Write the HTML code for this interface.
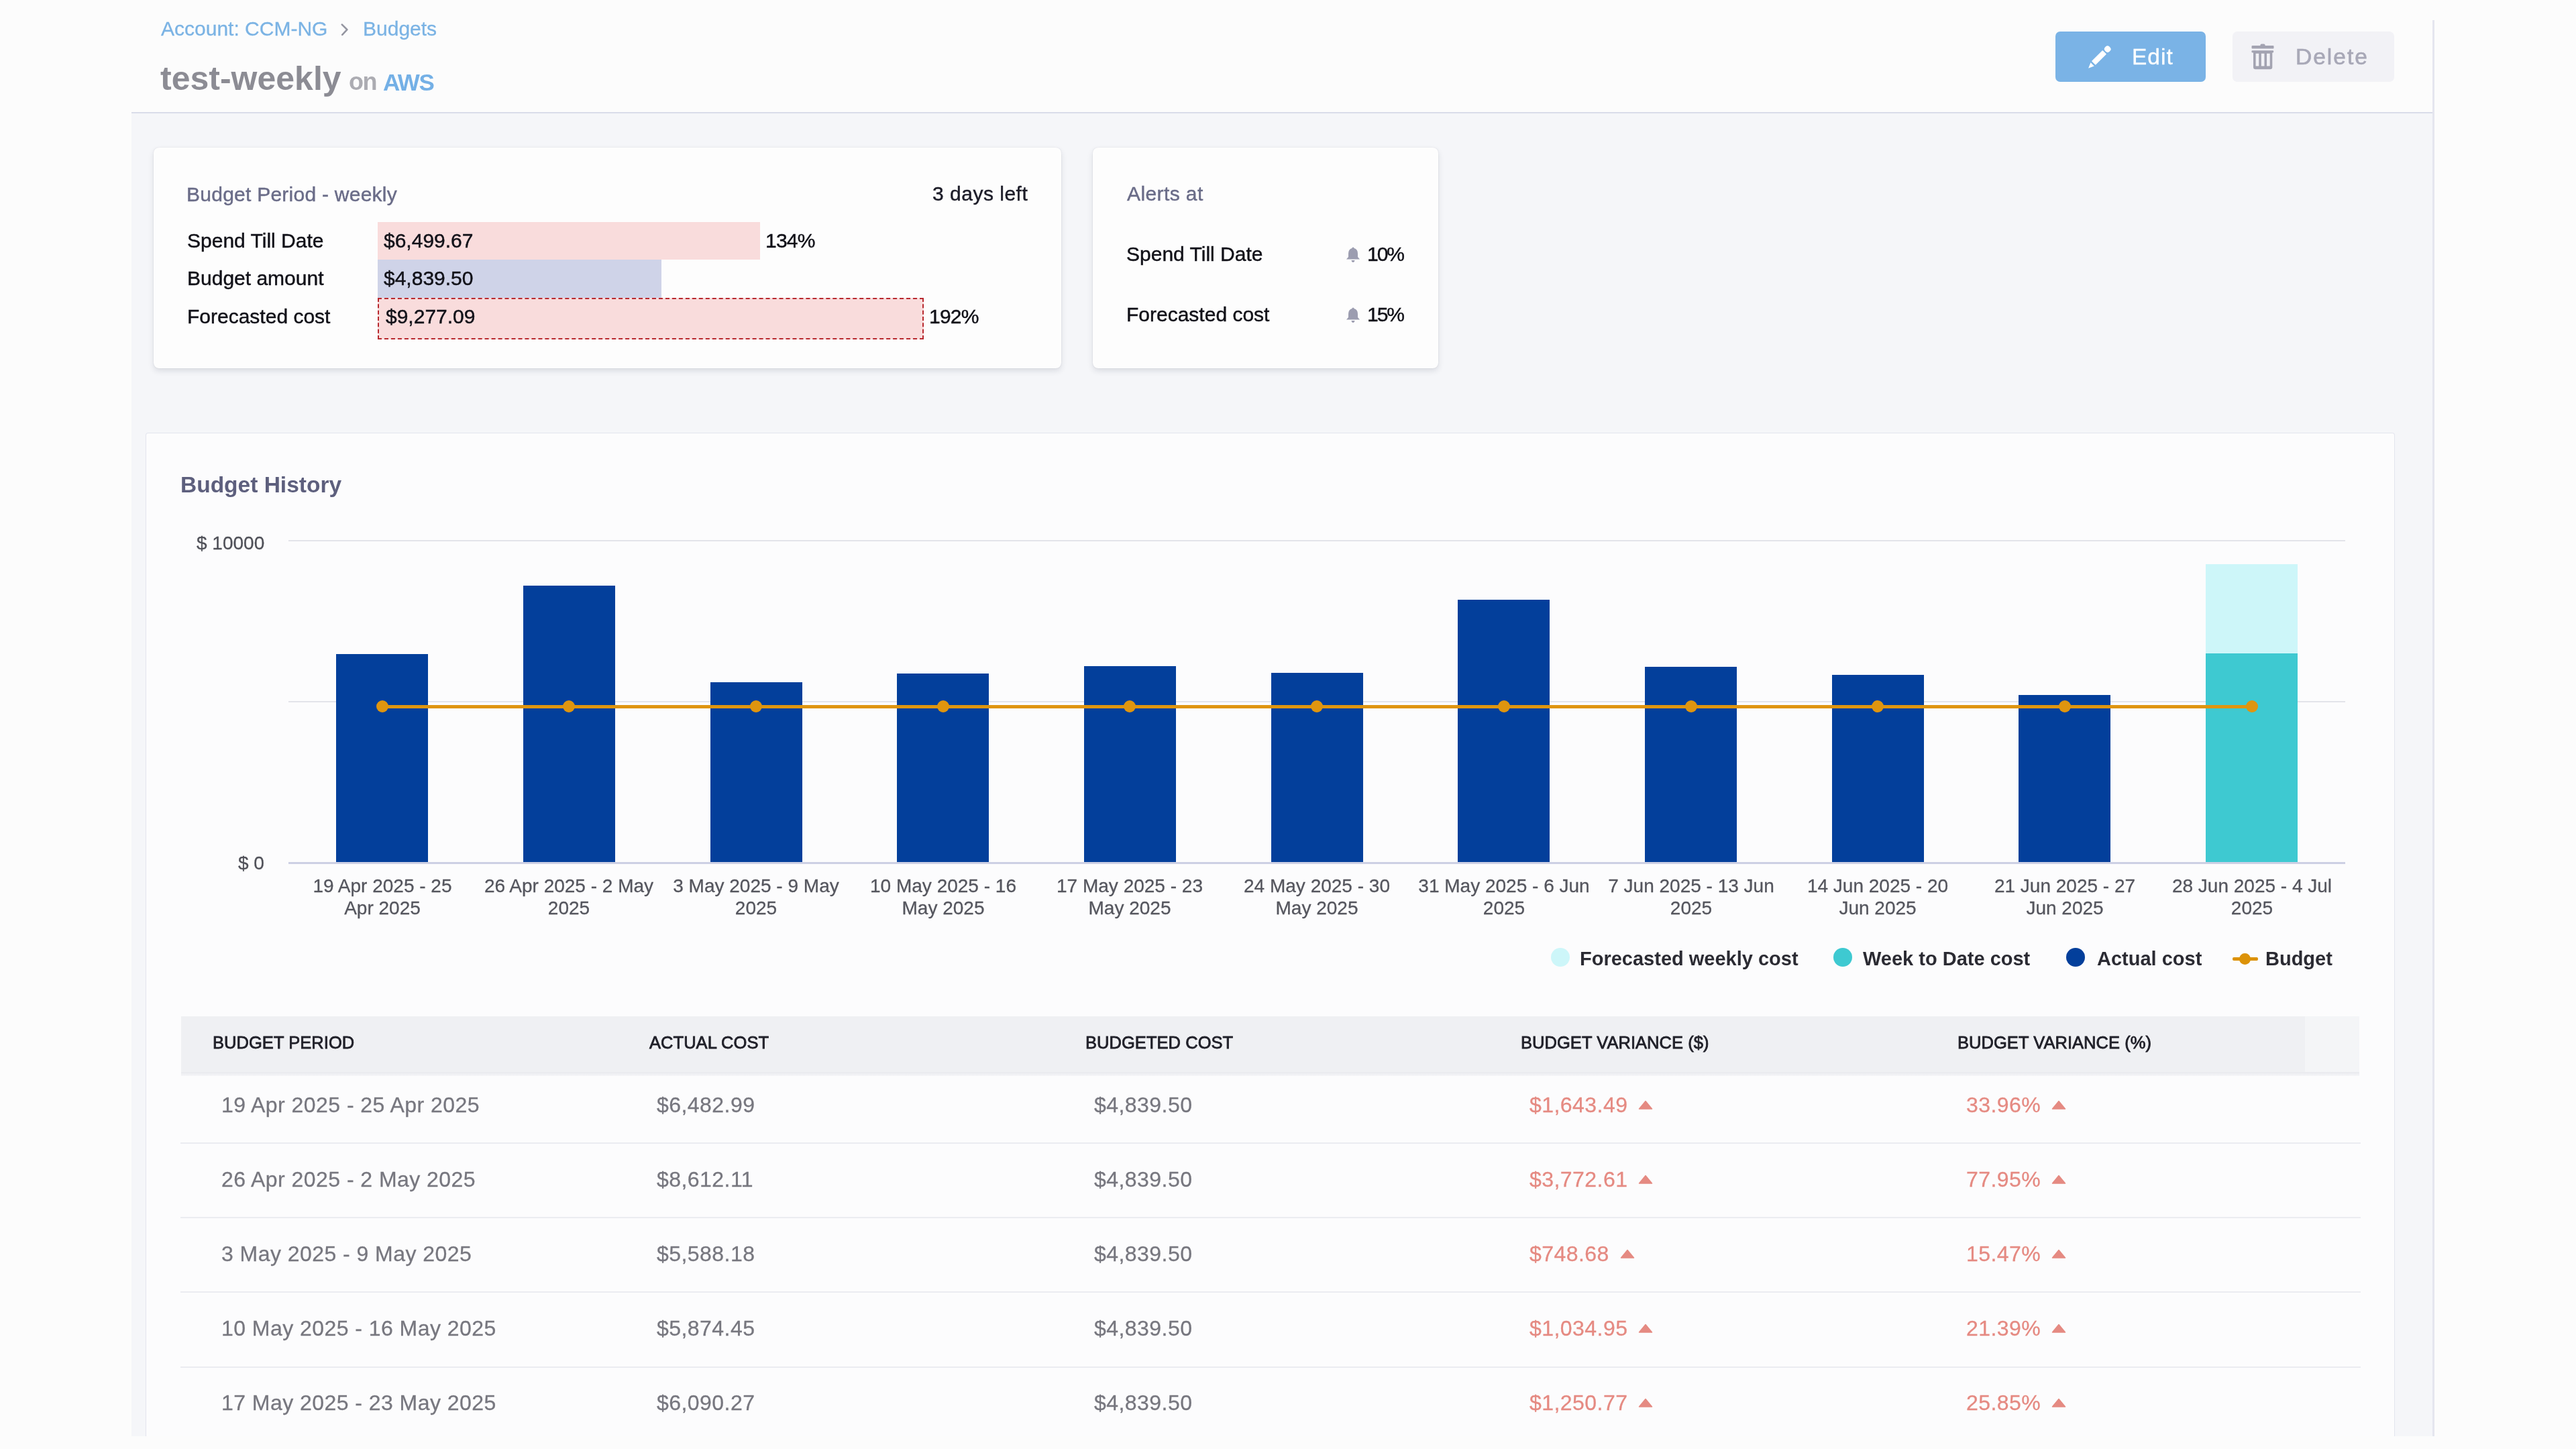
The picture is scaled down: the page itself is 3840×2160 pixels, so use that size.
<!DOCTYPE html>
<html><head><meta charset="utf-8"><title>test-weekly - Budgets</title>
<style>
html,body{margin:0;padding:0;}
body{width:3840px;height:2160px;overflow:hidden;position:relative;background:#fcfcfc;font-family:"Liberation Sans", sans-serif;}
.t{position:absolute;white-space:nowrap;will-change:transform;}
</style></head><body>
<div style="position:absolute;left:196.0px;top:169.0px;width:3432.0px;height:1972.0px;background:#f5f6f9;"></div>
<div style="position:absolute;left:196.0px;top:167.0px;width:3432.0px;height:2.0px;background:#d9dce9;"></div>
<div style="position:absolute;left:3626.0px;top:30.0px;width:3.0px;height:2111.0px;background:#e5e6ef;"></div>
<div class="t" style="left:240.0px;top:28.1px;font-size:30px;line-height:30px;font-weight:400;color:#7bb3e4;-webkit-text-stroke:0.3px currentColor;">Account: CCM-NG</div>
<svg style="position:absolute;left:506px;top:35px" width="16" height="18" viewBox="0 0 16 18"><path d="M3.8 1.6 L11.4 9.2 L4.2 16.8" fill="none" stroke="#9495a0" stroke-width="2.6" stroke-linecap="round" stroke-linejoin="round"/></svg>
<div class="t" style="left:541.0px;top:28.1px;font-size:30px;line-height:30px;font-weight:400;color:#7bb3e4;-webkit-text-stroke:0.3px currentColor;">Budgets</div>
<div class="t" style="left:239.0px;top:92.1px;font-size:50px;line-height:50px;font-weight:700;color:#8c8c94;">test-weekly</div>
<div class="t" style="left:520.0px;top:103.9px;font-size:36px;line-height:36px;font-weight:700;color:#acacb2;letter-spacing:-1.5px;">on</div>
<div class="t" style="left:570.5px;top:104.8px;font-size:35px;line-height:35px;font-weight:700;color:#74b0e6;letter-spacing:-1.5px;">AWS</div>
<div style="position:absolute;left:3064.0px;top:47.0px;width:224.0px;height:75.0px;background:#7ab3e6;border-radius:7px;"></div>
<svg style="position:absolute;left:3110px;top:64px" width="40" height="40" viewBox="0 0 40 40"><g transform="translate(3.1,37.8) rotate(-45)" fill="#fff"><path d="M0 0 L8.5 -3.7 L8.5 3.7 Z"/><rect x="11" y="-4.1" width="23" height="8.2" rx="0.8"/><rect x="36" y="-4.6" width="9" height="9.2" rx="4"/></g></svg>
<div class="t" style="left:3178.0px;top:67.9px;font-size:33.5px;line-height:33.5px;font-weight:400;color:#ffffff;-webkit-text-stroke:0.3px currentColor;letter-spacing:1px;">Edit</div>
<div style="position:absolute;left:3328.0px;top:47.0px;width:241.0px;height:75.0px;background:#f2f2f6;border-radius:7px;"></div>
<svg style="position:absolute;left:3355px;top:64px" width="36" height="42" viewBox="0 0 36 42"><rect x="14.4" y="1.6" width="7.2" height="4.2" rx="2" fill="#a3a3b1"/><rect x="1.5" y="4" width="33" height="4.4" rx="1" fill="#a3a3b1"/><rect x="1.5" y="11.2" width="32.6" height="3.2" rx="1" fill="#a3a3b1"/><path d="M4 13 H32.3 V36 Q32.3 39.2 29.1 39.2 H7.2 Q4 39.2 4 36 Z" fill="#a3a3b1"/><rect x="7.6" y="15.8" width="4.63" height="18.7" fill="#f2f2f6"/><rect x="15.83" y="15.8" width="4.63" height="18.7" fill="#f2f2f6"/><rect x="24.06" y="15.8" width="4.63" height="18.7" fill="#f2f2f6"/></svg>
<div class="t" style="left:3422.0px;top:67.9px;font-size:33.5px;line-height:33.5px;font-weight:400;color:#a8a8b7;-webkit-text-stroke:0.7px currentColor;letter-spacing:2px;">Delete</div>
<div style="position:absolute;left:229.0px;top:220.0px;width:1353.0px;height:329.0px;background:#fdfdfd;border-radius:8px;box-shadow:0 4px 9px rgba(40,45,70,0.13), 0 0 1.5px rgba(40,45,70,0.14);"></div>
<div style="position:absolute;left:1629.0px;top:220.0px;width:515.0px;height:329.0px;background:#fdfdfd;border-radius:8px;box-shadow:0 4px 9px rgba(40,45,70,0.13), 0 0 1.5px rgba(40,45,70,0.14);"></div>
<div class="t" style="left:277.7px;top:274.6px;font-size:30px;line-height:30px;font-weight:400;color:#6a6c88;-webkit-text-stroke:0.45px currentColor;letter-spacing:0.25px;">Budget Period - weekly</div>
<div class="t" style="left:1390.0px;top:274.0px;font-size:30px;line-height:30px;font-weight:400;color:#1c1c28;-webkit-text-stroke:0.45px currentColor;letter-spacing:0.5px;">3 days left</div>
<div class="t" style="left:279.0px;top:343.9px;font-size:30px;line-height:30px;font-weight:400;color:#111118;-webkit-text-stroke:0.45px currentColor;">Spend Till Date</div>
<div class="t" style="left:279.0px;top:399.6px;font-size:30px;line-height:30px;font-weight:400;color:#111118;-webkit-text-stroke:0.45px currentColor;">Budget amount</div>
<div class="t" style="left:279.0px;top:456.6px;font-size:30px;line-height:30px;font-weight:400;color:#111118;-webkit-text-stroke:0.45px currentColor;">Forecasted cost</div>
<div style="position:absolute;left:563.0px;top:330.5px;width:570.0px;height:56.5px;background:#f9dcdc;"></div>
<div style="position:absolute;left:563.0px;top:387.0px;width:423.0px;height:56.5px;background:#cfd3e8;"></div>
<div style="position:absolute;left:563.0px;top:443.5px;width:814.0px;height:62.0px;background:#f9dcdc;box-sizing:border-box;border:2.6px dashed #b8292f;"></div>
<div class="t" style="left:572.0px;top:343.6px;font-size:30px;line-height:30px;font-weight:400;color:#111118;-webkit-text-stroke:0.45px currentColor;">$6,499.67</div>
<div class="t" style="left:572.0px;top:399.6px;font-size:30px;line-height:30px;font-weight:400;color:#111118;-webkit-text-stroke:0.45px currentColor;">$4,839.50</div>
<div class="t" style="left:575.0px;top:457.2px;font-size:30px;line-height:30px;font-weight:400;color:#111118;-webkit-text-stroke:0.45px currentColor;">$9,277.09</div>
<div class="t" style="left:1141.0px;top:343.6px;font-size:30px;line-height:30px;font-weight:400;color:#111118;-webkit-text-stroke:0.45px currentColor;letter-spacing:-0.8px;">134%</div>
<div class="t" style="left:1385.0px;top:457.2px;font-size:30px;line-height:30px;font-weight:400;color:#111118;-webkit-text-stroke:0.45px currentColor;letter-spacing:-0.8px;">192%</div>
<div class="t" style="left:1680.0px;top:274.0px;font-size:30px;line-height:30px;font-weight:400;color:#6a6c88;-webkit-text-stroke:0.45px currentColor;letter-spacing:0.4px;">Alerts at</div>
<div class="t" style="left:1679.0px;top:364.2px;font-size:30px;line-height:30px;font-weight:400;color:#111118;-webkit-text-stroke:0.45px currentColor;">Spend Till Date</div>
<div class="t" style="left:1679.0px;top:453.9px;font-size:30px;line-height:30px;font-weight:400;color:#111118;-webkit-text-stroke:0.45px currentColor;">Forecasted cost</div>
<svg style="position:absolute;left:2006.3px;top:367px" width="22" height="25" viewBox="0 0 22 25"><path d="M11 1.5 Q12.5 1.5 12.5 3 Q18 4.5 18 11 V16 L21 19.5 H1 L4 16 V11 Q4 4.5 9.5 3 Q9.5 1.5 11 1.5 Z" fill="#9c9db0"/><path d="M8.5 21 H13.5 Q13 24 11 24 Q9 24 8.5 21 Z" fill="#9c9db0"/></svg>
<svg style="position:absolute;left:2006.3px;top:456.5px" width="22" height="25" viewBox="0 0 22 25"><path d="M11 1.5 Q12.5 1.5 12.5 3 Q18 4.5 18 11 V16 L21 19.5 H1 L4 16 V11 Q4 4.5 9.5 3 Q9.5 1.5 11 1.5 Z" fill="#9c9db0"/><path d="M8.5 21 H13.5 Q13 24 11 24 Q9 24 8.5 21 Z" fill="#9c9db0"/></svg>
<div class="t" style="left:2038.0px;top:364.2px;font-size:30px;line-height:30px;font-weight:400;color:#111118;-webkit-text-stroke:0.45px currentColor;letter-spacing:-2px;">10%</div>
<div class="t" style="left:2038.0px;top:453.9px;font-size:30px;line-height:30px;font-weight:400;color:#111118;-webkit-text-stroke:0.45px currentColor;letter-spacing:-2px;">15%</div>
<div style="position:absolute;left:217.0px;top:645.0px;width:3353.0px;height:1496.0px;background:#fcfcfd;box-sizing:border-box;border:1.5px solid #e3e5ee;border-bottom:none;border-radius:4px 4px 0 0;"></div>
<div class="t" style="left:269.0px;top:705.5px;font-size:33.5px;line-height:33.5px;font-weight:700;color:#5d5f7d;">Budget History</div>
<div class="t" style="right:3446.0px;text-align:right;top:795.6px;font-size:28px;line-height:28px;font-weight:400;color:#4f5058;-webkit-text-stroke:0.3px currentColor;">$ 10000</div>
<div class="t" style="right:3446.0px;text-align:right;top:1273.3px;font-size:28px;line-height:28px;font-weight:400;color:#4f5058;-webkit-text-stroke:0.3px currentColor;">$ 0</div>
<div style="position:absolute;left:430.0px;top:805.0px;width:3066.0px;height:2.0px;background:#e3e4ea;"></div>
<div style="position:absolute;left:430.0px;top:1045.0px;width:3066.0px;height:2.0px;background:#e3e4ea;"></div>
<div style="position:absolute;left:430.0px;top:1285.0px;width:3066.0px;height:2.5px;background:#cdd0e4;"></div>
<div style="position:absolute;left:501.1px;top:974.5px;width:137.0px;height:310.5px;background:#033f9b;"></div>
<div style="position:absolute;left:779.8px;top:872.5px;width:137.0px;height:412.5px;background:#033f9b;"></div>
<div style="position:absolute;left:1058.5px;top:1017.4px;width:137.0px;height:267.6px;background:#033f9b;"></div>
<div style="position:absolute;left:1337.2px;top:1003.7px;width:137.0px;height:281.3px;background:#033f9b;"></div>
<div style="position:absolute;left:1615.9px;top:993.4px;width:137.0px;height:291.6px;background:#033f9b;"></div>
<div style="position:absolute;left:1894.6px;top:1003.1px;width:137.0px;height:281.9px;background:#033f9b;"></div>
<div style="position:absolute;left:2173.3px;top:894.4px;width:137.0px;height:390.6px;background:#033f9b;"></div>
<div style="position:absolute;left:2452.0px;top:993.8px;width:137.0px;height:291.2px;background:#033f9b;"></div>
<div style="position:absolute;left:2730.7px;top:1005.6px;width:137.0px;height:279.4px;background:#033f9b;"></div>
<div style="position:absolute;left:3009.4px;top:1036.2px;width:137.0px;height:248.8px;background:#033f9b;"></div>
<div style="position:absolute;left:3288.1px;top:840.6px;width:137.0px;height:133.1px;background:#cdf6f9;"></div>
<div style="position:absolute;left:3288.1px;top:973.7px;width:137.0px;height:311.3px;background:#3ec9d1;"></div>
<div style="position:absolute;left:569.6px;top:1050.7px;width:2787.0px;height:5.2px;background:#df950f;"></div>
<div style="position:absolute;left:560.6px;top:1044.3px;width:18px;height:18px;border-radius:50%;background:#df950f"></div>
<div style="position:absolute;left:839.3px;top:1044.3px;width:18px;height:18px;border-radius:50%;background:#df950f"></div>
<div style="position:absolute;left:1118.0px;top:1044.3px;width:18px;height:18px;border-radius:50%;background:#df950f"></div>
<div style="position:absolute;left:1396.7px;top:1044.3px;width:18px;height:18px;border-radius:50%;background:#df950f"></div>
<div style="position:absolute;left:1675.4px;top:1044.3px;width:18px;height:18px;border-radius:50%;background:#df950f"></div>
<div style="position:absolute;left:1954.1px;top:1044.3px;width:18px;height:18px;border-radius:50%;background:#df950f"></div>
<div style="position:absolute;left:2232.8px;top:1044.3px;width:18px;height:18px;border-radius:50%;background:#df950f"></div>
<div style="position:absolute;left:2511.5px;top:1044.3px;width:18px;height:18px;border-radius:50%;background:#df950f"></div>
<div style="position:absolute;left:2790.2px;top:1044.3px;width:18px;height:18px;border-radius:50%;background:#df950f"></div>
<div style="position:absolute;left:3068.9px;top:1044.3px;width:18px;height:18px;border-radius:50%;background:#df950f"></div>
<div style="position:absolute;left:3347.6px;top:1044.3px;width:18px;height:18px;border-radius:50%;background:#df950f"></div>
<div class="t" style="left:-30.4px;width:1200px;text-align:center;top:1307.3px;font-size:28px;line-height:28px;font-weight:400;color:#55565e;-webkit-text-stroke:0.3px currentColor;">19 Apr 2025 - 25</div>
<div class="t" style="left:-30.4px;width:1200px;text-align:center;top:1339.7px;font-size:28px;line-height:28px;font-weight:400;color:#55565e;-webkit-text-stroke:0.3px currentColor;">Apr 2025</div>
<div class="t" style="left:248.3px;width:1200px;text-align:center;top:1307.3px;font-size:28px;line-height:28px;font-weight:400;color:#55565e;-webkit-text-stroke:0.3px currentColor;">26 Apr 2025 - 2 May</div>
<div class="t" style="left:248.3px;width:1200px;text-align:center;top:1339.7px;font-size:28px;line-height:28px;font-weight:400;color:#55565e;-webkit-text-stroke:0.3px currentColor;">2025</div>
<div class="t" style="left:527.0px;width:1200px;text-align:center;top:1307.3px;font-size:28px;line-height:28px;font-weight:400;color:#55565e;-webkit-text-stroke:0.3px currentColor;">3 May 2025 - 9 May</div>
<div class="t" style="left:527.0px;width:1200px;text-align:center;top:1339.7px;font-size:28px;line-height:28px;font-weight:400;color:#55565e;-webkit-text-stroke:0.3px currentColor;">2025</div>
<div class="t" style="left:805.7px;width:1200px;text-align:center;top:1307.3px;font-size:28px;line-height:28px;font-weight:400;color:#55565e;-webkit-text-stroke:0.3px currentColor;">10 May 2025 - 16</div>
<div class="t" style="left:805.7px;width:1200px;text-align:center;top:1339.7px;font-size:28px;line-height:28px;font-weight:400;color:#55565e;-webkit-text-stroke:0.3px currentColor;">May 2025</div>
<div class="t" style="left:1084.4px;width:1200px;text-align:center;top:1307.3px;font-size:28px;line-height:28px;font-weight:400;color:#55565e;-webkit-text-stroke:0.3px currentColor;">17 May 2025 - 23</div>
<div class="t" style="left:1084.4px;width:1200px;text-align:center;top:1339.7px;font-size:28px;line-height:28px;font-weight:400;color:#55565e;-webkit-text-stroke:0.3px currentColor;">May 2025</div>
<div class="t" style="left:1363.1px;width:1200px;text-align:center;top:1307.3px;font-size:28px;line-height:28px;font-weight:400;color:#55565e;-webkit-text-stroke:0.3px currentColor;">24 May 2025 - 30</div>
<div class="t" style="left:1363.1px;width:1200px;text-align:center;top:1339.7px;font-size:28px;line-height:28px;font-weight:400;color:#55565e;-webkit-text-stroke:0.3px currentColor;">May 2025</div>
<div class="t" style="left:1641.8px;width:1200px;text-align:center;top:1307.3px;font-size:28px;line-height:28px;font-weight:400;color:#55565e;-webkit-text-stroke:0.3px currentColor;">31 May 2025 - 6 Jun</div>
<div class="t" style="left:1641.8px;width:1200px;text-align:center;top:1339.7px;font-size:28px;line-height:28px;font-weight:400;color:#55565e;-webkit-text-stroke:0.3px currentColor;">2025</div>
<div class="t" style="left:1920.5px;width:1200px;text-align:center;top:1307.3px;font-size:28px;line-height:28px;font-weight:400;color:#55565e;-webkit-text-stroke:0.3px currentColor;">7 Jun 2025 - 13 Jun</div>
<div class="t" style="left:1920.5px;width:1200px;text-align:center;top:1339.7px;font-size:28px;line-height:28px;font-weight:400;color:#55565e;-webkit-text-stroke:0.3px currentColor;">2025</div>
<div class="t" style="left:2199.2px;width:1200px;text-align:center;top:1307.3px;font-size:28px;line-height:28px;font-weight:400;color:#55565e;-webkit-text-stroke:0.3px currentColor;">14 Jun 2025 - 20</div>
<div class="t" style="left:2199.2px;width:1200px;text-align:center;top:1339.7px;font-size:28px;line-height:28px;font-weight:400;color:#55565e;-webkit-text-stroke:0.3px currentColor;">Jun 2025</div>
<div class="t" style="left:2477.9px;width:1200px;text-align:center;top:1307.3px;font-size:28px;line-height:28px;font-weight:400;color:#55565e;-webkit-text-stroke:0.3px currentColor;">21 Jun 2025 - 27</div>
<div class="t" style="left:2477.9px;width:1200px;text-align:center;top:1339.7px;font-size:28px;line-height:28px;font-weight:400;color:#55565e;-webkit-text-stroke:0.3px currentColor;">Jun 2025</div>
<div class="t" style="left:2756.6px;width:1200px;text-align:center;top:1307.3px;font-size:28px;line-height:28px;font-weight:400;color:#55565e;-webkit-text-stroke:0.3px currentColor;">28 Jun 2025 - 4 Jul</div>
<div class="t" style="left:2756.6px;width:1200px;text-align:center;top:1339.7px;font-size:28px;line-height:28px;font-weight:400;color:#55565e;-webkit-text-stroke:0.3px currentColor;">2025</div>
<div style="position:absolute;left:2311.7px;top:1413.0px;width:28px;height:28px;border-radius:50%;background:#cdf6f9"></div>
<div class="t" style="left:2355.0px;top:1414.5px;font-size:29px;line-height:29px;font-weight:700;color:#2b2b33;">Forecasted weekly cost</div>
<div style="position:absolute;left:2733.0px;top:1413.0px;width:28px;height:28px;border-radius:50%;background:#3ec9d1"></div>
<div class="t" style="left:2777.0px;top:1414.5px;font-size:29px;line-height:29px;font-weight:700;color:#2b2b33;">Week to Date cost</div>
<div style="position:absolute;left:3080.0px;top:1413.0px;width:28px;height:28px;border-radius:50%;background:#033f9b"></div>
<div class="t" style="left:3126.0px;top:1414.5px;font-size:29px;line-height:29px;font-weight:700;color:#2b2b33;">Actual cost</div>
<div style="position:absolute;left:3328.0px;top:1426.5px;width:38.0px;height:5.0px;background:#dc9208;border-radius:2px;"></div>
<div style="position:absolute;left:3337.6px;top:1420.5px;width:17.5px;height:17.5px;border-radius:50%;background:#dc9208"></div>
<div class="t" style="left:3377.0px;top:1414.5px;font-size:29px;line-height:29px;font-weight:700;color:#2b2b33;">Budget</div>
<div style="position:absolute;left:270.0px;top:1515.0px;width:3166.0px;height:87.0px;background:#eff0f3;"></div>
<div style="position:absolute;left:3436.0px;top:1515.0px;width:81.0px;height:87.0px;background:#f4f5f7;"></div>
<div style="position:absolute;left:270.0px;top:1598.0px;width:3247.0px;height:6.0px;background:linear-gradient(#e8e9ee,#f6f6f8);"></div>
<div class="t" style="left:317.0px;top:1542.4px;font-size:25.5px;line-height:25.5px;font-weight:400;color:#202029;-webkit-text-stroke:0.8px currentColor;letter-spacing:0.05px;">BUDGET PERIOD</div>
<div class="t" style="left:967.5px;top:1542.4px;font-size:25.5px;line-height:25.5px;font-weight:400;color:#202029;-webkit-text-stroke:0.8px currentColor;letter-spacing:0.05px;">ACTUAL COST</div>
<div class="t" style="left:1618.0px;top:1542.4px;font-size:25.5px;line-height:25.5px;font-weight:400;color:#202029;-webkit-text-stroke:0.8px currentColor;letter-spacing:0.05px;">BUDGETED COST</div>
<div class="t" style="left:2267.0px;top:1542.4px;font-size:25.5px;line-height:25.5px;font-weight:400;color:#202029;-webkit-text-stroke:0.8px currentColor;letter-spacing:0.05px;">BUDGET VARIANCE ($)</div>
<div class="t" style="left:2917.5px;top:1542.4px;font-size:25.5px;line-height:25.5px;font-weight:400;color:#202029;-webkit-text-stroke:0.8px currentColor;letter-spacing:0.05px;">BUDGET VARIANCE (%)</div>
<div style="position:absolute;left:269.0px;top:1703.0px;width:3250.0px;height:2.0px;background:#ebecf1;"></div>
<div style="position:absolute;left:269.0px;top:1814.0px;width:3250.0px;height:2.0px;background:#ebecf1;"></div>
<div style="position:absolute;left:269.0px;top:1925.0px;width:3250.0px;height:2.0px;background:#ebecf1;"></div>
<div style="position:absolute;left:269.0px;top:2036.5px;width:3250.0px;height:2.0px;background:#ebecf1;"></div>
<div class="t" style="left:329.5px;top:1631.4px;font-size:32px;line-height:32px;font-weight:400;color:#77777f;-webkit-text-stroke:0.3px currentColor;letter-spacing:0.45px;">19 Apr 2025 - 25 Apr 2025</div>
<div class="t" style="left:979.0px;top:1631.4px;font-size:32px;line-height:32px;font-weight:400;color:#77777f;-webkit-text-stroke:0.3px currentColor;letter-spacing:0.45px;">$6,482.99</div>
<div class="t" style="left:1630.5px;top:1631.4px;font-size:32px;line-height:32px;font-weight:400;color:#77777f;-webkit-text-stroke:0.3px currentColor;letter-spacing:0.45px;">$4,839.50</div>
<div class="t" style="left:2279.5px;top:1631.4px;font-size:32px;line-height:32px;font-weight:400;color:#e58a82;-webkit-text-stroke:0.3px currentColor;letter-spacing:0.45px;">$1,643.49<svg style="margin-left:16px;vertical-align:3.6px" width="22" height="14" viewBox="0 0 22 14"><path d="M11 1.5 L20.5 13 H1.5 Z" fill="#e58a82" stroke="#e58a82" stroke-width="1.5" stroke-linejoin="round"/></svg></div>
<div class="t" style="left:2931.0px;top:1631.4px;font-size:32px;line-height:32px;font-weight:400;color:#e58a82;-webkit-text-stroke:0.3px currentColor;letter-spacing:0.45px;">33.96%<svg style="margin-left:16px;vertical-align:3.6px" width="22" height="14" viewBox="0 0 22 14"><path d="M11 1.5 L20.5 13 H1.5 Z" fill="#e58a82" stroke="#e58a82" stroke-width="1.5" stroke-linejoin="round"/></svg></div>
<div class="t" style="left:329.5px;top:1742.4px;font-size:32px;line-height:32px;font-weight:400;color:#77777f;-webkit-text-stroke:0.3px currentColor;letter-spacing:0.45px;">26 Apr 2025 - 2 May 2025</div>
<div class="t" style="left:979.0px;top:1742.4px;font-size:32px;line-height:32px;font-weight:400;color:#77777f;-webkit-text-stroke:0.3px currentColor;letter-spacing:0.45px;">$8,612.11</div>
<div class="t" style="left:1630.5px;top:1742.4px;font-size:32px;line-height:32px;font-weight:400;color:#77777f;-webkit-text-stroke:0.3px currentColor;letter-spacing:0.45px;">$4,839.50</div>
<div class="t" style="left:2279.5px;top:1742.4px;font-size:32px;line-height:32px;font-weight:400;color:#e58a82;-webkit-text-stroke:0.3px currentColor;letter-spacing:0.45px;">$3,772.61<svg style="margin-left:16px;vertical-align:3.6px" width="22" height="14" viewBox="0 0 22 14"><path d="M11 1.5 L20.5 13 H1.5 Z" fill="#e58a82" stroke="#e58a82" stroke-width="1.5" stroke-linejoin="round"/></svg></div>
<div class="t" style="left:2931.0px;top:1742.4px;font-size:32px;line-height:32px;font-weight:400;color:#e58a82;-webkit-text-stroke:0.3px currentColor;letter-spacing:0.45px;">77.95%<svg style="margin-left:16px;vertical-align:3.6px" width="22" height="14" viewBox="0 0 22 14"><path d="M11 1.5 L20.5 13 H1.5 Z" fill="#e58a82" stroke="#e58a82" stroke-width="1.5" stroke-linejoin="round"/></svg></div>
<div class="t" style="left:329.5px;top:1853.3px;font-size:32px;line-height:32px;font-weight:400;color:#77777f;-webkit-text-stroke:0.3px currentColor;letter-spacing:0.45px;">3 May 2025 - 9 May 2025</div>
<div class="t" style="left:979.0px;top:1853.3px;font-size:32px;line-height:32px;font-weight:400;color:#77777f;-webkit-text-stroke:0.3px currentColor;letter-spacing:0.45px;">$5,588.18</div>
<div class="t" style="left:1630.5px;top:1853.3px;font-size:32px;line-height:32px;font-weight:400;color:#77777f;-webkit-text-stroke:0.3px currentColor;letter-spacing:0.45px;">$4,839.50</div>
<div class="t" style="left:2279.5px;top:1853.3px;font-size:32px;line-height:32px;font-weight:400;color:#e58a82;-webkit-text-stroke:0.3px currentColor;letter-spacing:0.45px;">$748.68<svg style="margin-left:16px;vertical-align:3.6px" width="22" height="14" viewBox="0 0 22 14"><path d="M11 1.5 L20.5 13 H1.5 Z" fill="#e58a82" stroke="#e58a82" stroke-width="1.5" stroke-linejoin="round"/></svg></div>
<div class="t" style="left:2931.0px;top:1853.3px;font-size:32px;line-height:32px;font-weight:400;color:#e58a82;-webkit-text-stroke:0.3px currentColor;letter-spacing:0.45px;">15.47%<svg style="margin-left:16px;vertical-align:3.6px" width="22" height="14" viewBox="0 0 22 14"><path d="M11 1.5 L20.5 13 H1.5 Z" fill="#e58a82" stroke="#e58a82" stroke-width="1.5" stroke-linejoin="round"/></svg></div>
<div class="t" style="left:329.5px;top:1964.3px;font-size:32px;line-height:32px;font-weight:400;color:#77777f;-webkit-text-stroke:0.3px currentColor;letter-spacing:0.45px;">10 May 2025 - 16 May 2025</div>
<div class="t" style="left:979.0px;top:1964.3px;font-size:32px;line-height:32px;font-weight:400;color:#77777f;-webkit-text-stroke:0.3px currentColor;letter-spacing:0.45px;">$5,874.45</div>
<div class="t" style="left:1630.5px;top:1964.3px;font-size:32px;line-height:32px;font-weight:400;color:#77777f;-webkit-text-stroke:0.3px currentColor;letter-spacing:0.45px;">$4,839.50</div>
<div class="t" style="left:2279.5px;top:1964.3px;font-size:32px;line-height:32px;font-weight:400;color:#e58a82;-webkit-text-stroke:0.3px currentColor;letter-spacing:0.45px;">$1,034.95<svg style="margin-left:16px;vertical-align:3.6px" width="22" height="14" viewBox="0 0 22 14"><path d="M11 1.5 L20.5 13 H1.5 Z" fill="#e58a82" stroke="#e58a82" stroke-width="1.5" stroke-linejoin="round"/></svg></div>
<div class="t" style="left:2931.0px;top:1964.3px;font-size:32px;line-height:32px;font-weight:400;color:#e58a82;-webkit-text-stroke:0.3px currentColor;letter-spacing:0.45px;">21.39%<svg style="margin-left:16px;vertical-align:3.6px" width="22" height="14" viewBox="0 0 22 14"><path d="M11 1.5 L20.5 13 H1.5 Z" fill="#e58a82" stroke="#e58a82" stroke-width="1.5" stroke-linejoin="round"/></svg></div>
<div class="t" style="left:329.5px;top:2075.2px;font-size:32px;line-height:32px;font-weight:400;color:#77777f;-webkit-text-stroke:0.3px currentColor;letter-spacing:0.45px;">17 May 2025 - 23 May 2025</div>
<div class="t" style="left:979.0px;top:2075.2px;font-size:32px;line-height:32px;font-weight:400;color:#77777f;-webkit-text-stroke:0.3px currentColor;letter-spacing:0.45px;">$6,090.27</div>
<div class="t" style="left:1630.5px;top:2075.2px;font-size:32px;line-height:32px;font-weight:400;color:#77777f;-webkit-text-stroke:0.3px currentColor;letter-spacing:0.45px;">$4,839.50</div>
<div class="t" style="left:2279.5px;top:2075.2px;font-size:32px;line-height:32px;font-weight:400;color:#e58a82;-webkit-text-stroke:0.3px currentColor;letter-spacing:0.45px;">$1,250.77<svg style="margin-left:16px;vertical-align:3.6px" width="22" height="14" viewBox="0 0 22 14"><path d="M11 1.5 L20.5 13 H1.5 Z" fill="#e58a82" stroke="#e58a82" stroke-width="1.5" stroke-linejoin="round"/></svg></div>
<div class="t" style="left:2931.0px;top:2075.2px;font-size:32px;line-height:32px;font-weight:400;color:#e58a82;-webkit-text-stroke:0.3px currentColor;letter-spacing:0.45px;">25.85%<svg style="margin-left:16px;vertical-align:3.6px" width="22" height="14" viewBox="0 0 22 14"><path d="M11 1.5 L20.5 13 H1.5 Z" fill="#e58a82" stroke="#e58a82" stroke-width="1.5" stroke-linejoin="round"/></svg></div>
</body></html>
